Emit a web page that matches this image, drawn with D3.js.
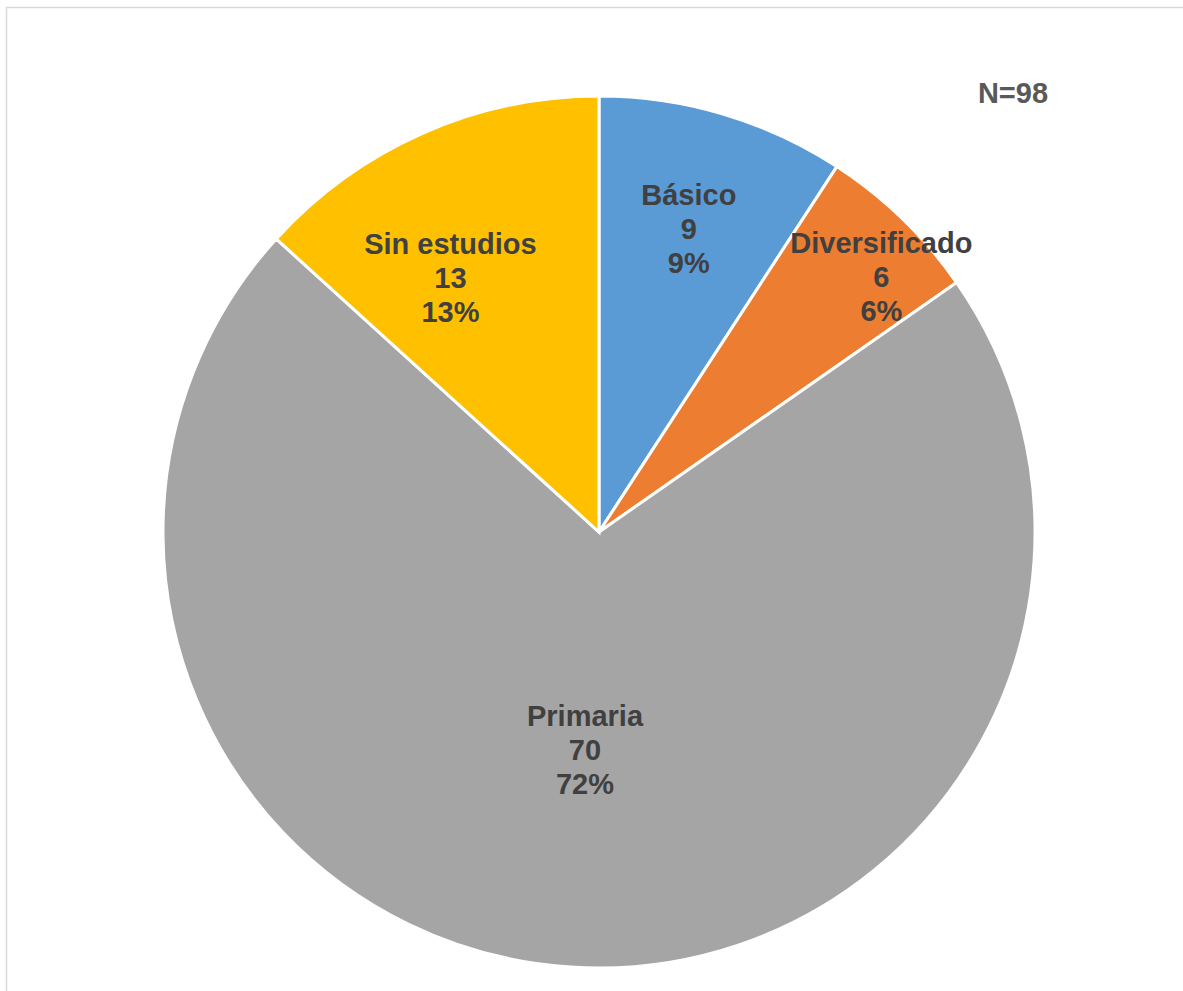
<!DOCTYPE html>
<html>
<head>
<meta charset="utf-8">
<script src="https://cdn.jsdelivr.net/npm/d3@7"></script>
<style>
  body { margin: 0; background: #fff; }
  svg { display: block; }
  .lbl { font-family: "Liberation Sans", Arial, sans-serif; font-weight: bold; font-size: 29px; fill: #404040; }
</style>
</head>
<body>
<main></main>
<script>
	// data
	const categories = ["Básico", "Diversificado", "Primaria", "Sin estudios"];
	const counts = [9, 6, 70, 13];
	const percents = ["9%", "6%", "72%", "13%"];
	const colors = ["#5B9BD5", "#ED7D31", "#A5A5A5", "#FFC000"];
	const total = 98;

	const width = 1183, height = 991;
	const cx = 599, cy = 532, radius = 436;

	// where the labels sit: share of radius + angle nudge (deg)
	const labelLayout = {
		"Básico": { r: 0.724, da: 0 },
		"Diversificado": { r: 0.873, da: 3.8 },
		"Primaria": { r: 0.502, da: 0 },
		"Sin estudios": { r: 0.674, da: -6.5 }
	};

	const svg = d3.select("main")
					.append("svg")
					.attr("width", width)
					.attr("height", height);

	// light frame
	svg.append("rect")
		.attr("x", 6.5)
		.attr("y", 7.5)
		.attr("width", width + 20)
		.attr("height", height + 20)
		.style("fill", "none")
		.style("stroke", "#d9d9d9")
		.style("stroke-width", 1.5);

	const data = categories.map((c, i) => ({ cat: c, value: counts[i], pct: percents[i], color: colors[i] }));

	const pie = d3.pie()
				.sort(null)
				.value((d) => d.value);

	const arc = d3.arc()
				.innerRadius(0)
				.outerRadius(radius);

	const g = svg.append("g")
				.attr("transform", `translate(${cx}, ${cy})`);

	const arcs = pie(data);

	g.selectAll(".slice")
		.data(arcs).enter()
		.append("path")
			.attr("class", "slice")
			.attr("d", arc)
			.style("fill", (d) => d.data.color)
			.style("stroke", "#fff")
			.style("stroke-width", 3)
			.style("stroke-linejoin", "miter");

	const lineH = 34;
	const labels = g.selectAll(".lbl")
		.data(arcs).enter()
		.append("text")
			.attr("class", "lbl")
			.attr("text-anchor", "middle")
			.attr("transform", (d) => {
				const lay = labelLayout[d.data.cat];
				const a = (d.startAngle + d.endAngle) / 2 + lay.da * Math.PI / 180;
				const r = radius * lay.r;
				return `translate(${r * Math.sin(a)}, ${-r * Math.cos(a)})`;
			});

	labels.selectAll("tspan")
		.data((d) => [d.data.cat, d.data.value, d.data.pct]).enter()
		.append("tspan")
			.attr("x", 0)
			.attr("y", (d, i) => (i - 1) * lineH + 10)
			.text((d) => d);

	svg.append("text")
		.attr("class", "lbl")
		.attr("x", 1013)
		.attr("y", 103)
		.attr("text-anchor", "middle")
		.style("fill", "#595959")
		.text(`N=${total}`);
</script>
</body>
</html>
